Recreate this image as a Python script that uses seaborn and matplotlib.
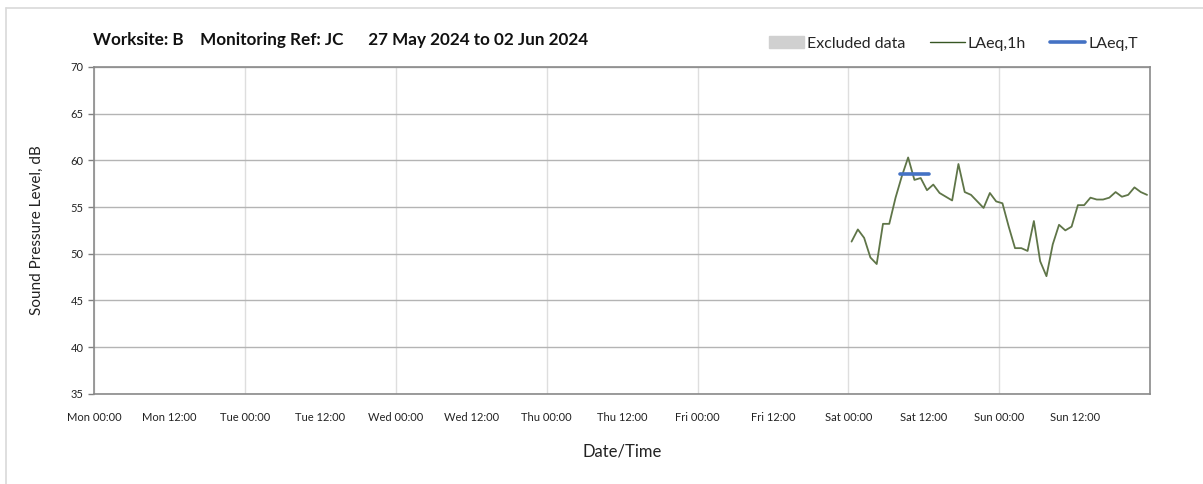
import matplotlib.dates as mdates
import matplotlib.pyplot as plt
import pandas as pd
import seaborn as sns
from matplotlib.lines import Line2D
from matplotlib.patches import Patch
from matplotlib.ticker import FuncFormatter

# hourly LAeq,1h values, Sat 00:30 .. Sun 23:30
laeq_1h = [
    51.3, 52.6, 51.7, 49.6, 48.9, 53.2, 53.2, 56.0, 58.3, 60.3, 57.9, 58.1,
    56.8, 57.4, 56.5, 56.1, 55.7, 59.6, 56.6, 56.3, 55.6, 54.9, 56.5, 55.6,
    55.4, 52.9, 50.6, 50.6, 50.3, 53.5, 49.2, 47.6, 51.0, 53.1, 52.5, 52.9,
    55.2, 55.2, 56.0, 55.8, 55.8, 56.0, 56.6, 56.1, 56.3, 57.1, 56.6, 56.3,
]
first_hour = "2024-06-01 00:30"

# LAeq,T over the assessment period
laeq_t_times = ["2024-06-01 08:15", "2024-06-01 12:45"]
laeq_t_values = [58.5, 58.5]

excluded_periods = []  # none in this week

week_start = pd.Timestamp("2024-05-27 00:00")
week_end = pd.Timestamp("2024-06-03 00:00")
title = "Worksite: B    Monitoring Ref: JC      27 May 2024 to 02 Jun 2024"

sns.set_theme(style="white")
plt.rcParams["font.family"] = ["Lato", "DejaVu Sans"]

df = pd.DataFrame({
    "time": pd.date_range(first_hour, periods=len(laeq_1h), freq="h"),
    "level": laeq_1h,
})
df_t = pd.DataFrame({"time": pd.to_datetime(laeq_t_times), "level": laeq_t_values})

fig = plt.figure(figsize=(12.03, 4.84), dpi=100)
ax = fig.add_axes([0.0781, 0.186, 0.878, 0.676])

for start, end in excluded_periods:
    ax.axvspan(pd.Timestamp(start), pd.Timestamp(end), color="#d0d0d0", lw=0)

sns.lineplot(data=df, x="time", y="level", ax=ax, color="#5f7548", lw=1.3)
sns.lineplot(data=df_t, x="time", y="level", ax=ax, color="#4472c4", lw=2.6)

ax.set_xlim(week_start, week_end)
ax.set_ylim(35, 70)
ax.set_yticks(range(35, 71, 5))


def tick_label(x, pos):
    d = mdates.num2date(x).replace(tzinfo=None)
    if d >= week_end:
        return ""
    return d.strftime("%a %H:%M")


ax.xaxis.set_major_locator(mdates.DayLocator())
ax.xaxis.set_minor_locator(mdates.HourLocator(byhour=[12]))
ax.xaxis.set_major_formatter(FuncFormatter(tick_label))
ax.xaxis.set_minor_formatter(FuncFormatter(tick_label))
ax.tick_params(axis="x", which="major", length=5, width=1, color="#808080",
               labelsize=8, pad=8, labelcolor="#222222")
ax.tick_params(axis="x", which="minor", length=3, width=1, color="#b0b0b0",
               labelsize=8, pad=10, labelcolor="#222222")
ax.tick_params(axis="y", length=4, width=1, color="#808080", labelsize=8,
               labelcolor="#222222", left=True)

ax.grid(axis="x", which="major", color="#dedede", lw=1)
ax.grid(axis="y", color="#b4b4b4", lw=1)
for side in ax.spines.values():
    side.set_color("#8a8a8a")
    side.set_linewidth(1.2)

ax.set_xlabel("Date/Time", fontsize=12, labelpad=15, color="#222222")
ax.set_ylabel("Sound Pressure Level, dB", fontsize=11, labelpad=19, color="#222222")

fig.text(0.077, 0.917, title, fontsize=12.3, fontweight="bold", va="center",
         color="#111111")

handles = [
    Patch(color="#d0d0d0", label="Excluded data"),
    Line2D([], [], color="#375623", lw=1, label="LAeq,1h"),
    Line2D([], [], color="#4472c4", lw=2.6, label="LAeq,T"),
]
fig.legend(handles=handles, loc="center right", bbox_to_anchor=(0.958, 0.91),
           ncol=3, frameon=False, fontsize=11.5, handlelength=2.2,
           handletextpad=0.2, columnspacing=1.5)

# light frame round the chart area
fig.add_artist(Line2D([0.0046, 0.0046], [0.0, 0.983], color="#d9d9d9", lw=1.2))
fig.add_artist(Line2D([0.0046, 1.0], [0.983, 0.983], color="#d9d9d9", lw=1.2))

fig.savefig("out.png", dpi=100)
